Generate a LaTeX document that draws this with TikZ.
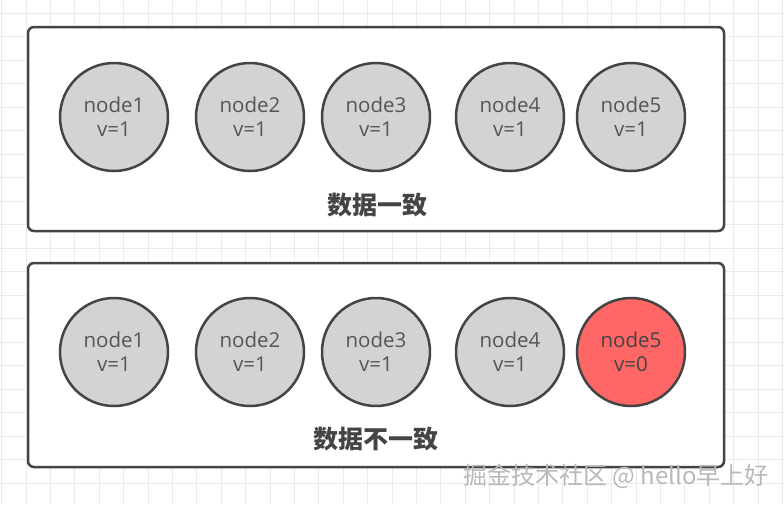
\documentclass[tikz,border=0pt]{standalone}
\usepackage{fontspec}
\setmainfont{Open Sans}
\newfontfamily\cjk{Noto Sans CJK SC}
\usepackage{tikz}
\usetikzlibrary{positioning}
\usepackage{xcolor}
\definecolor{gridline}{HTML}{EBEBEB}
\definecolor{edge}{HTML}{444444}
\definecolor{nodegray}{HTML}{D3D3D3}
\definecolor{nodered}{HTML}{FF6666}
\definecolor{txt}{HTML}{555555}

\begin{document}
\begin{tikzpicture}[
  x=1pt, y=-1pt,
  panel/.style={draw=edge, line width=2.5pt, rounded corners=6pt, fill=white},
  replica/.style={circle, draw=edge, line width=2.5pt, fill=nodegray,
    minimum size=108pt, inner sep=0pt, align=center, text=txt,
    font=\fontsize{20.5}{24}\selectfont},
  stale/.style={replica, fill=nodered, text=edge},
  caption/.style={font=\cjk\bfseries\fontsize{25}{28}\selectfont, text=edge},
  wmark/.style={font=\cjk\fontsize{24}{28}\selectfont, text=gray!55}
]
\useasboundingbox (0,0) rectangle (784,504);
\fill[white] (0,0) rectangle (784,504);
% background grid
\foreach \k in {0,...,32} {
  \draw[gridline, line width=1pt] (1.6+24.4*\k,0) -- (1.6+24.4*\k,504);
}
\foreach \k in {0,...,21} {
  \draw[gridline, line width=1pt] (0,13+23.5*\k) -- (784,13+23.5*\k);
}

% consistent state
\draw[panel] (28,27) rectangle (724,231);
\node[replica] (a1) at (114,117) {node1\\v=1};
\node[replica] (a2) at (250,117) {node2\\v=1};
\node[replica] (a3) at (376,117) {node3\\v=1};
\node[replica] (a4) at (510,117) {node4\\v=1};
\node[replica] (a5) at (631,117) {node5\\v=1};
\node[caption] (ok) at (377,205) {数据一致};

% inconsistent state
\draw[panel] (28,263) rectangle (724,467);
\node[replica] (b1) at (114,352) {node1\\v=1};
\node[replica] (b2) at (250,352) {node2\\v=1};
\node[replica] (b3) at (376,352) {node3\\v=1};
\node[replica] (b4) at (510,352) {node4\\v=1};
\node[stale] (b5) at (631,352) {node5\\v=0};
\node[caption] (bad) at (376,439) {数据不一致};

\node[wmark] (wm) at (616,476) {掘金技术社区 @ hello早上好};
\end{tikzpicture}
\end{document}
